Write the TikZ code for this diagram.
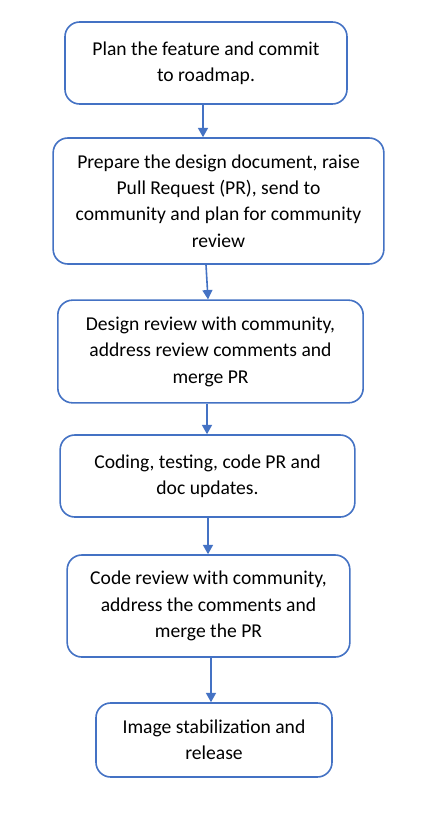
\documentclass[tikz,border=0pt]{standalone}
\usepackage{fontspec}
\setmainfont{Carlito}
\usetikzlibrary{arrows.meta,calc}
\definecolor{officeblue}{HTML}{4472C4}
\begin{document}
\begin{tikzpicture}[x=0.75pt,y=-0.75pt,
  stepbox/.style={draw=officeblue,line width=1.2pt,rounded corners=11pt,fill=white,
    align=center,font=\fontsize{14.7pt}{19.8pt}\selectfont,inner sep=0pt},
  flow/.style={draw=officeblue,line width=1.2pt,-{Triangle[length=7pt,width=7.5pt]}}]
\useasboundingbox[fill=white] (0,0) rectangle (436,824);
\node[stepbox,minimum width=211.5pt,minimum height=61.5pt] (b1) at (206,63)
  {Plan the feature and commit\\to roadmap.};
\node[stepbox,minimum width=248pt,minimum height=94.5pt] (b2) at (218.5,201)
  {Prepare the design document, raise\\Pull Request (PR), send to\\community and plan for community\\review};
\node[stepbox,minimum width=229pt,minimum height=77pt] (b3) at (210.5,351.5)
  {Design review with community,\\address review comments and\\merge PR};
\node[stepbox,minimum width=221pt,minimum height=61.5pt] (b4) at (207.5,476)
  {Coding, testing, code PR and\\doc updates.};
\node[stepbox,minimum width=212pt,minimum height=76.5pt] (b5) at (208.5,606)
  {Code review with community,\\address the comments and\\merge the PR};
\node[stepbox,minimum width=177pt,minimum height=55.5pt] (b6) at (214,740)
  {Image stabilization and\\release};
\draw[flow] ($(b1.south)+(-3,0)$) -- ($(b2.north)+(-15.5,0)$);
\draw[flow] ($(b2.south)+(-12.5,0)$) -- ($(b3.north)+(-2.5,0)$);
\draw[flow] ($(b3.south)+(-3.5,0)$) -- ($(b4.north)+(-0.5,0)$);
\draw[flow] ($(b4.south)+(0.5,0)$) -- ($(b5.north)+(-0.5,0)$);
\draw[flow] ($(b5.south)+(2.5,0)$) -- ($(b6.north)+(-3,0)$);
\end{tikzpicture}
\end{document}
